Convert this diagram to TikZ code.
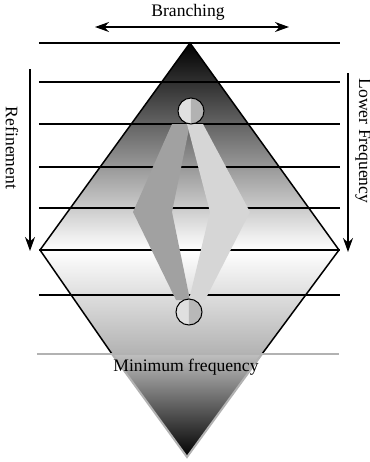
\documentclass[tikz,border=0pt]{standalone}
\usepackage{fontspec}
\setmainfont{Liberation Serif}
\usetikzlibrary{arrows.meta}

\begin{document}
\begin{tikzpicture}[x=0.5pt,y=-0.5pt,font=\fontsize{8.8}{10}\selectfont,
  level/.style={line width=0.75pt},
  flow/.style={line width=0.75pt,-{Stealth[length=7pt,width=5pt]}}]
\useasboundingbox (0,0) rectangle (370,462);
% shaded diamond
\shade[top color=black,bottom color=white] (190,43)--(40,250)--(339,250)--cycle;
\shade[top color=white,bottom color=black!30] (40,250)--(339,250)--(262,354)--(112,354)--cycle;
\shade[top color=black!25,bottom color=black] (112,354)--(262,354)--(187,457)--cycle;
\draw[level] (40,250)--(190,43)--(339,250)--(262,354);\draw[level] (40,250)--(112,354);
\draw[black!30,line width=1pt] (112,354)--(187,457)--(262,354);
\foreach \y in {43,82,124,167,208,250,295}{\draw[level] (39,\y)--(340,\y);}
\draw[black!30,line width=1.3pt] (37,354)--(339,354);
% two paths between the circles
\fill[black!37] (172,124)--(190,124)--(172,212)--(190,300)--(176,300)--(133,212)--cycle;
\fill[black!16] (187,124)--(203,124)--(250,212)--(205,300)--(189,300)--(210,212)--cycle;
\fill[black!12] (191,98) arc[start angle=270,end angle=90,radius=13]--cycle;
\fill[black!30] (191,98) arc[start angle=-90,end angle=90,radius=13]--cycle;
\draw[line width=0.5pt] (191,111) circle (13);
\fill[black!12] (189,299) arc[start angle=270,end angle=90,radius=13]--cycle;
\fill[black!28] (189,299) arc[start angle=-90,end angle=90,radius=13]--cycle;
\draw[line width=0.5pt] (189,312) circle (13);
% arrows and labels
\coordinate (br-l) at (95,27);\coordinate (br-r) at (289,27);
\draw[line width=0.75pt,{Stealth[length=7pt,width=5pt]}-{Stealth[length=7pt,width=5pt]}] (br-l)--(br-r);
\node (branch) at (188,12) {Branching};
\coordinate (ref-t) at (30,69);\coordinate (ref-b) at (30,251);\draw[flow] (ref-t)--(ref-b);
\node[rotate=-90] (refine) at (12,148) {Refinement};
\coordinate (lf-t) at (348,73);\coordinate (lf-b) at (348,252);\draw[flow] (lf-t)--(lf-b);
\node[rotate=-90] (lowfreq) at (363,141) {Lower Frequency};
\node (minfreq) at (186,367) {Minimum frequency};
\end{tikzpicture}
\end{document}
